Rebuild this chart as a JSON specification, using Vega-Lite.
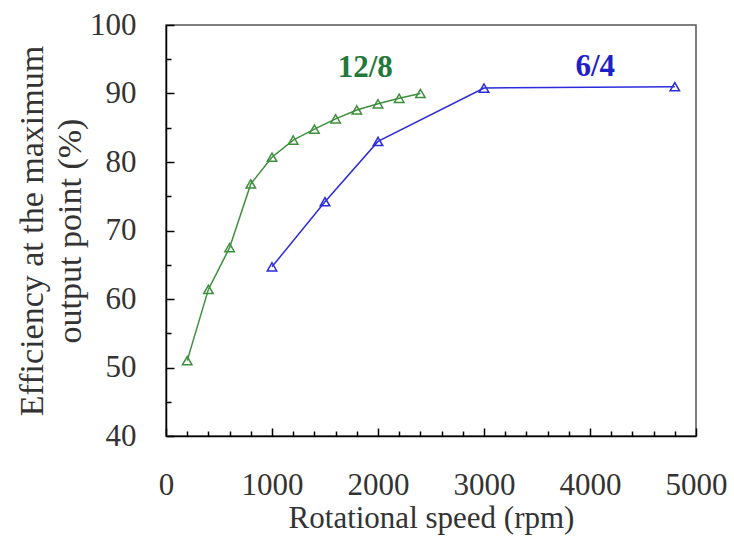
{
  "$schema": "https://vega.github.io/schema/vega-lite/v6.json",
  "width": 530,
  "height": 411,
  "autosize": "none",
  "padding": {"left": 166, "top": 25, "right": 38, "bottom": 116},
  "background": "white",
  "config": {
    "font": "Liberation Serif",
    "view": {"stroke": "#555555", "strokeWidth": 1.5},
    "axis": {
      "grid": false,
      "domainColor": "#000000",
      "domainWidth": 1.5,
      "tickColor": "#000000",
      "tickWidth": 1.5,
      "labelFont": "Liberation Serif",
      "labelFontSize": 31,
      "labelColor": "#333333",
      "titleFont": "Liberation Serif",
      "titleFontSize": 31,
      "titleFontWeight": "normal",
      "titleColor": "#333333"
    }
  },
  "datasets": {
    "curves": [
      {"series": "12/8", "rpm": 200, "eff": 51.0},
      {"series": "12/8", "rpm": 400, "eff": 61.4},
      {"series": "12/8", "rpm": 600, "eff": 67.5},
      {"series": "12/8", "rpm": 800, "eff": 76.8},
      {"series": "12/8", "rpm": 1000, "eff": 80.7},
      {"series": "12/8", "rpm": 1200, "eff": 83.2},
      {"series": "12/8", "rpm": 1400, "eff": 84.8},
      {"series": "12/8", "rpm": 1600, "eff": 86.3},
      {"series": "12/8", "rpm": 1800, "eff": 87.6},
      {"series": "12/8", "rpm": 2000, "eff": 88.5},
      {"series": "12/8", "rpm": 2200, "eff": 89.3},
      {"series": "12/8", "rpm": 2400, "eff": 90.0},
      {"series": "6/4", "rpm": 1000, "eff": 64.7},
      {"series": "6/4", "rpm": 1500, "eff": 74.2},
      {"series": "6/4", "rpm": 2000, "eff": 83.0},
      {"series": "6/4", "rpm": 3000, "eff": 90.8},
      {"series": "6/4", "rpm": 4800, "eff": 91.0}
    ],
    "labels": [
      {"series": "12/8", "rpm": 1880, "eff": 93.7, "text": "12/8"},
      {"series": "6/4", "rpm": 4050, "eff": 93.9, "text": "6/4"}
    ]
  },
  "layer": [
    {
      "data": {"name": "curves"},
      "mark": {"type": "line", "strokeWidth": 1.5},
      "encoding": {
        "x": {
          "field": "rpm", "type": "quantitative",
          "scale": {"domain": [0, 5000], "nice": false, "zero": false},
          "axis": {
            "orient": "bottom",
            "values": [0, 1000, 2000, 3000, 4000, 5000],
            "tickSize": -8,
            "labelPadding": 42,
            "format": "d",
            "labelFlush": false,
            "title": "Rotational speed (rpm)",
            "titlePadding": 3
          }
        },
        "y": {
          "field": "eff", "type": "quantitative",
          "scale": {"domain": [40, 100], "nice": false, "zero": false},
          "axis": {
            "orient": "left",
            "values": [40, 50, 60, 70, 80, 90, 100],
            "tickSize": -8,
            "labelPadding": 38,
            "labelFlush": false,
            "title": ["Efficiency at the maximum", "output point (%)"],
            "titleFontSize": 34,
            "titlePadding": 2,
            "titleLineHeight": 38
          }
        },
        "color": {
          "field": "series", "type": "nominal",
          "scale": {"domain": ["12/8", "6/4"], "range": ["#3d8f3d", "#2b2bdc"]},
          "legend": null
        }
      }
    },
    {
      "data": {"name": "curves"},
      "mark": {"type": "point", "shape": "triangle-up", "filled": false, "size": 90, "strokeWidth": 1.5, "opacity": 1},
      "encoding": {
        "x": {
          "field": "rpm", "type": "quantitative",
          "axis": {
            "orient": "bottom",
            "values": [200, 400, 600, 800, 1200, 1400, 1600, 1800, 2200, 2400, 2600, 2800, 3200, 3400, 3600, 3800, 4200, 4400, 4600, 4800],
            "tickSize": -5,
            "labels": false,
            "domain": false,
            "title": null
          }
        },
        "y": {
          "field": "eff", "type": "quantitative",
          "axis": {
            "orient": "left",
            "values": [45, 55, 65, 75, 85, 95],
            "tickSize": -5,
            "labels": false,
            "domain": false,
            "title": null
          }
        },
        "color": {
          "field": "series", "type": "nominal",
          "scale": {"domain": ["12/8", "6/4"], "range": ["#3d8f3d", "#2b2bdc"]},
          "legend": null
        }
      }
    },
    {
      "data": {"name": "labels"},
      "mark": {"type": "text", "fontWeight": "bold", "fontSize": 31, "font": "Liberation Serif"},
      "encoding": {
        "x": {"field": "rpm", "type": "quantitative", "axis": null},
        "y": {"field": "eff", "type": "quantitative", "axis": null},
        "text": {"field": "text"},
        "color": {
          "field": "series", "type": "nominal",
          "scale": {"domain": ["12/8", "6/4"], "range": ["#1f7a3a", "#2020c8"]},
          "legend": null
        }
      }
    }
  ],
  "resolve": {
    "axis": {"x": "independent", "y": "independent"},
    "scale": {"color": "independent"}
  }
}
